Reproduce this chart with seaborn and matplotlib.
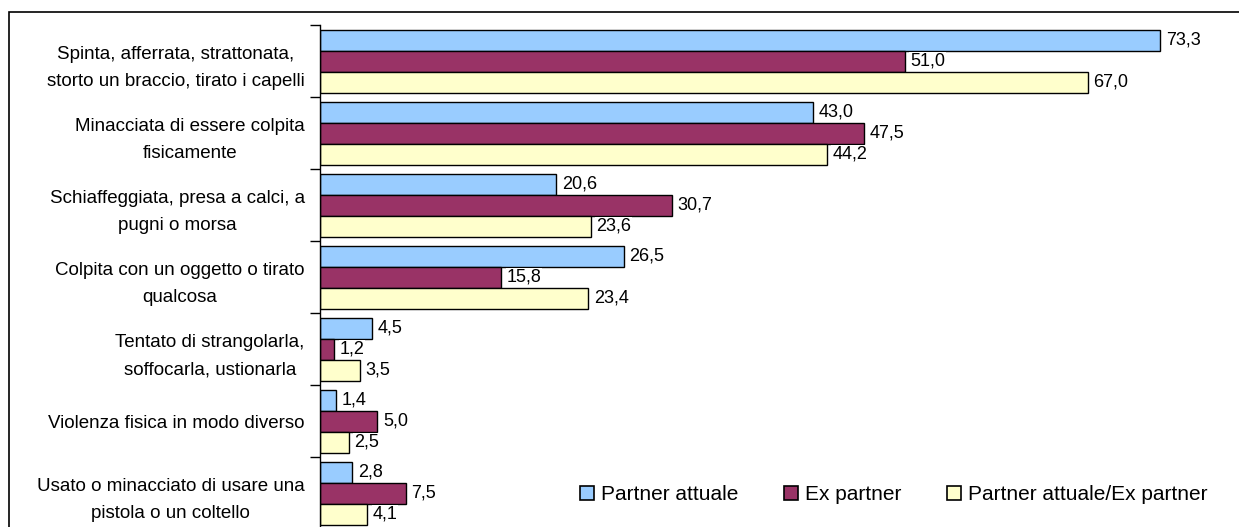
import matplotlib
matplotlib.use("Agg")
import matplotlib.pyplot as plt
import seaborn as sns
import pandas as pd
from matplotlib.patches import Patch, Rectangle

# data
categories = ["Spinta, afferrata, strattonata,\nstorto un braccio, tirato i capelli",
              "Minacciata di essere colpita\nfisicamente",
              "Schiaffeggiata, presa a calci, a\npugni o morsa",
              "Colpita con un oggetto o tirato\nqualcosa",
              "Tentato di strangolarla,\nsoffocarla, ustionarla",
              "Violenza fisica in modo diverso",
              "Usato o minacciato di usare una\npistola o un coltello"]
series = ["Partner attuale", "Ex partner", "Partner attuale/Ex partner"]
partner_attuale = [73.3, 43.0, 20.6, 26.5, 4.5, 1.4, 2.8]
ex_partner = [51.0, 47.5, 30.7, 15.8, 1.2, 5.0, 7.5]
entrambi = [67.0, 44.2, 23.6, 23.4, 3.5, 2.5, 4.1]
colors = ["#99CCFF", "#993366", "#FFFFCC"]

rows = []
for s, vals in zip(series, [partner_attuale, ex_partner, entrambi]):
    for c, v in zip(categories, vals):
        rows.append({"categoria": c, "serie": s, "valore": v})
df = pd.DataFrame(rows)

sns.set_style("white")
plt.rcParams["font.family"] = ["Liberation Sans", "DejaVu Sans"]
plt.rcParams["text.color"] = "black"
plt.rcParams["ytick.color"] = "black"
plt.rcParams["ytick.labelcolor"] = "black"

fig = plt.figure(figsize=(12.39, 5.27), dpi=100)
ax = fig.add_axes([320 / 1239, 1 - 529 / 527, 917 / 1239, 504 / 527])

sns.barplot(data=df, x="valore", y="categoria", hue="serie", orient="h",
            palette=colors, width=0.875, edgecolor="black", linewidth=1,
            saturation=1, ax=ax, legend=False)

for cont in ax.containers:
    labels = [f"{v:.1f}".replace(".", ",") for v in cont.datavalues]
    ax.bar_label(cont, labels=labels, padding=4, fontsize=13, color="black",
                 bbox=dict(facecolor="white", edgecolor="none", pad=0.5))

ax.set_xlim(0, 80)
ax.set_ylim(6.5, -0.5)
ax.set_xlabel("")
ax.set_ylabel("")
ax.set_xticks([])
ax.tick_params(axis="y", which="major", left=False, length=0, pad=11, labelsize=13.5)
ax.set_yticks([i + 0.5 for i in range(-1, 7)], minor=True)
ax.tick_params(axis="y", which="minor", left=True, length=7, width=1, color="black", direction="out")
for lab in ax.get_yticklabels():
    lab.set_multialignment("center")
    lab.set_linespacing(1.8)
for side in ["top", "right", "bottom"]:
    ax.spines[side].set_visible(False)
ax.spines["left"].set_color("black")
ax.spines["left"].set_linewidth(1)

handles = [Patch(facecolor=c, edgecolor="black", linewidth=1.2) for c in colors]
ax.legend(handles, series, loc="center", bbox_to_anchor=(894 / 1239, 1 - 495 / 527),
          bbox_transform=fig.transFigure, ncol=3, frameon=False, fontsize=15,
          handlelength=0.65, handleheight=0.65, handletextpad=0.35, columnspacing=2.2)

# outer frame of the original picture
fig.patches.append(Rectangle((9 / 1239, -0.1), 1.2, 1.1 - 12 / 527, transform=fig.transFigure,
                             fill=False, edgecolor="black", linewidth=1.2))

plt.savefig("out.png", dpi=100)
